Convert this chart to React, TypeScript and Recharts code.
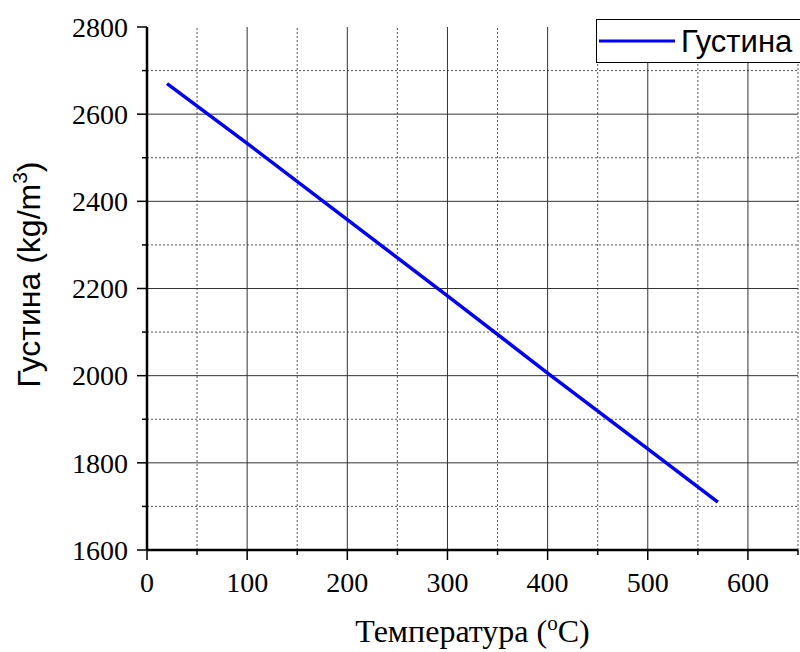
import { LineChart, Line, XAxis, YAxis, ReferenceLine, Legend, Label } from 'recharts'

const temperature = [20, 100, 200, 300, 400, 500, 570]
const density = [2670, 2533, 2358, 2183, 2006, 1832, 1710]

const xTicks = [0, 50, 100, 150, 200, 250, 300, 350, 400, 450, 500, 550, 600, 650]
const xMajor = [0, 100, 200, 300, 400, 500, 600]
const xGridMajor = [100, 200, 300, 400, 500, 600]
const xGridMinor = [50, 150, 250, 350, 450, 550, 650]

const yTicks = [1600, 1700, 1800, 1900, 2000, 2100, 2200, 2300, 2400, 2500, 2600, 2700, 2800]
const yMajor = [1600, 1800, 2000, 2200, 2400, 2600, 2800]
const yGridMajor = [1800, 2000, 2200, 2400, 2600]
const yGridMinor = [1700, 1900, 2100, 2300, 2500, 2700]

const data = temperature.map((t, i) => ({ t, density: density[i] }))

const serif = "'Liberation Serif', 'Times New Roman', serif"
const sans = "'Liberation Sans', Arial, sans-serif"

function XTick(props: any) {
  const { x, y, payload } = props
  const major = xMajor.includes(payload.value)
  return (
    <g>
      <line x1={x} y1={y} x2={x} y2={y + (major ? 10 : 5)} stroke="#000" strokeWidth={1.5} />
      {major && (
        <text x={x} y={y + 42} textAnchor="middle" style={{ fontFamily: serif, fontSize: 28 }} fill="#000">
          {payload.value}
        </text>
      )}
    </g>
  )
}

function YTick(props: any) {
  const { x, y, payload } = props
  const major = yMajor.includes(payload.value)
  return (
    <g>
      <line x1={x} y1={y} x2={x - (major ? 10 : 5)} y2={y} stroke="#000" strokeWidth={1.5} />
      {major && (
        <text x={x - 19} y={y} dy="0.35em" textAnchor="end" style={{ fontFamily: serif, fontSize: 28 }} fill="#000">
          {payload.value}
        </text>
      )}
    </g>
  )
}

function renderLegend(props: any) {
  const item = props.payload?.[0]
  return (
    <div
      style={{
        width: 210,
        height: 44,
        border: '1.5px solid #000',
        background: '#fff',
        display: 'flex',
        alignItems: 'center',
        boxSizing: 'border-box',
      }}
    >
      <svg width={84} height={10} style={{ display: 'block' }}>
        <line x1={2} y1={5} x2={78} y2={5} stroke={item?.color ?? '#0000ff'} strokeWidth={3} />
      </svg>
      <span style={{ fontFamily: sans, fontSize: 31, color: '#000', lineHeight: 1 }}>{item?.value}</span>
    </div>
  )
}

export default function App() {
  return (
    <div style={{ position: 'absolute', left: 0, top: 0, width: 800, height: 652, overflow: 'hidden', background: '#fff' }}>
      <LineChart width={800} height={652} data={data} margin={{ top: 27, right: 2, bottom: 0, left: 0 }}>
        {xGridMinor.map((v) => (
          <ReferenceLine key={'xm' + v} x={v} xAxisId="x" yAxisId="y" stroke="#555" strokeDasharray="2 2" />
        ))}
        {yGridMinor.map((v) => (
          <ReferenceLine key={'ym' + v} y={v} xAxisId="x" yAxisId="y" stroke="#555" strokeDasharray="2 2" />
        ))}
        {xGridMajor.map((v) => (
          <ReferenceLine key={'xg' + v} x={v} xAxisId="x" yAxisId="y" stroke="#333" />
        ))}
        {yGridMajor.map((v) => (
          <ReferenceLine key={'yg' + v} y={v} xAxisId="x" yAxisId="y" stroke="#333" />
        ))}
        <XAxis
          xAxisId="x"
          dataKey="t"
          type="number"
          domain={[0, 650]}
          ticks={xTicks}
          interval={0}
          height={102}
          tickSize={0}
          tickMargin={0}
          tickLine={false}
          axisLine={{ stroke: '#000', strokeWidth: 2.5 }}
          tick={<XTick />}
        >
          <Label
            content={(p: any) => {
              const vb = p.viewBox
              const cx = vb.x + vb.width / 2
              return (
                <text x={cx} y={642} textAnchor="middle" style={{ fontFamily: serif, fontSize: 32 }} fill="#000">
                  Температура (
                  <tspan dy={-12} style={{ fontSize: 21 }}>o</tspan>
                  <tspan dy={12}>C)</tspan>
                </text>
              )
            }}
          />
        </XAxis>
        <YAxis
          yAxisId="y"
          type="number"
          domain={[1600, 2800]}
          ticks={yTicks}
          interval={0}
          width={147}
          tickSize={0}
          tickMargin={0}
          tickLine={false}
          axisLine={{ stroke: '#000', strokeWidth: 2.5 }}
          tick={<YTick />}
        >
          <Label
            content={(p: any) => {
              const vb = p.viewBox
              const cy = vb.y + vb.height / 2 - 14
              return (
                <text transform={`translate(40,${cy}) rotate(-90)`} textAnchor="middle" style={{ fontFamily: sans, fontSize: 32 }} fill="#000">
                  Густина (kg/m
                  <tspan dy={-13} style={{ fontSize: 21 }}>3</tspan>
                  <tspan dy={13}>)</tspan>
                </text>
              )
            }}
          />
        </YAxis>
        <Legend
          layout="horizontal"
          verticalAlign="middle"
          align="center"
          content={renderLegend}
          wrapperStyle={{ position: 'absolute', left: 596, top: 19, width: 'auto' }}
        />
        <Line
          xAxisId="x"
          yAxisId="y"
          type="linear"
          dataKey="density"
          name="Густина"
          stroke="#0000ff"
          strokeWidth={3.5}
          dot={false}
          activeDot={false}
          isAnimationActive={false}
        />
      </LineChart>
    </div>
  )
}
